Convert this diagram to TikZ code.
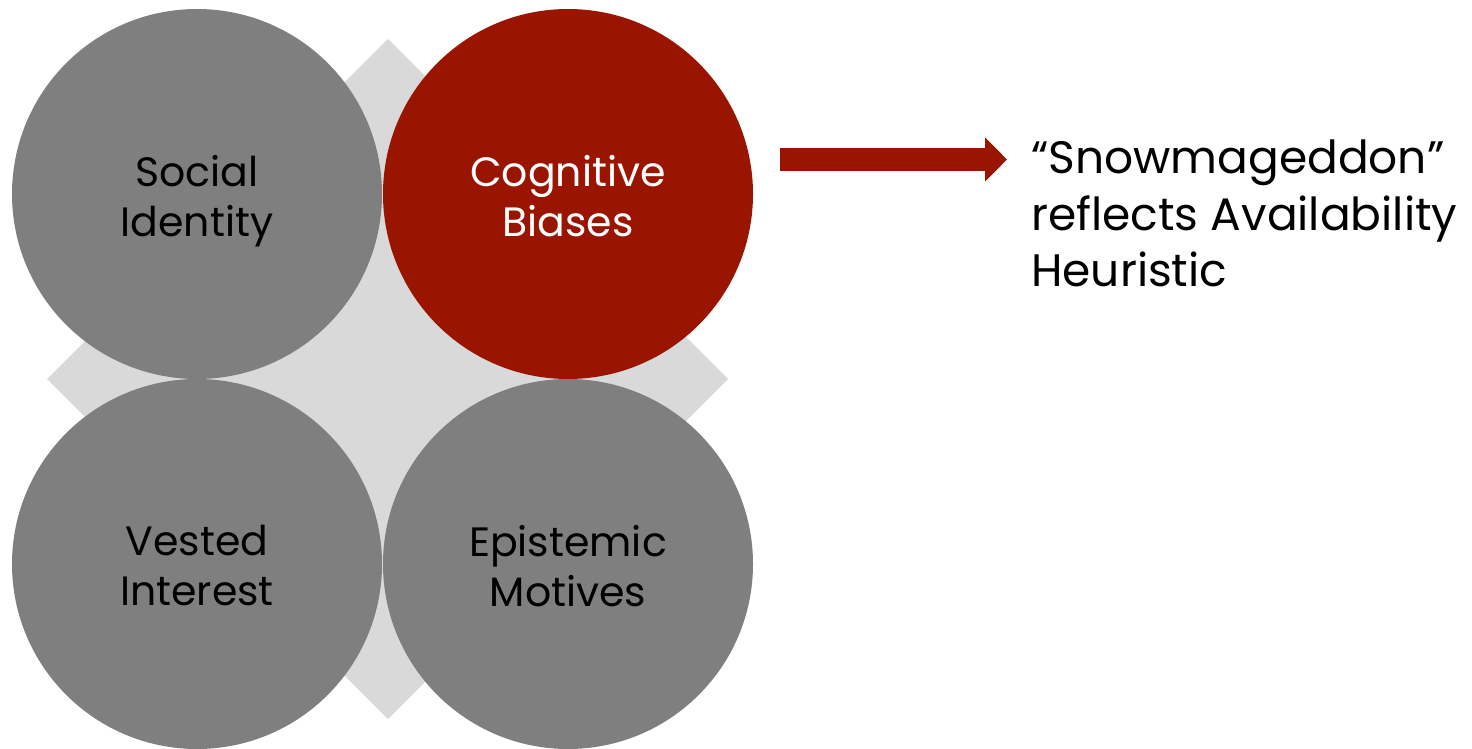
\documentclass[tikz,border=0pt]{standalone}
\usepackage{fontspec}
\setmainfont{Poppins}
\usetikzlibrary{arrows.meta}
\definecolor{disc}{RGB}{127,127,127}
\definecolor{accent}{RGB}{154,21,0}
\definecolor{backdrop}{RGB}{217,217,217}
\tikzset{
  disklabel/.style={align=center, inner sep=0pt, yshift=-7pt,
    font=\fontsize{41}{50}\selectfont},
  % the phantom keeps every two-line caption on the same baselines
  disk/.style={circle, minimum size=370pt, inner sep=0pt, fill=disc, draw=none,
    label={[disklabel, text=black]center:{#1\vphantom{y}}}},
  hotdisk/.style={circle, minimum size=370pt, inner sep=0pt, fill=accent, draw=none,
    label={[disklabel, text=white]center:{#1\vphantom{y}}}},
  pointer/.style={draw=accent, line width=23pt, -{Triangle[length=22pt, width=43pt]}},
  note/.style={anchor=north west, inner sep=0pt, align=left,
    font=\fontsize{45.5}{56.5}\selectfont, text=black}
}
\begin{document}
\begin{tikzpicture}[x=1pt, y=-1pt]
  \useasboundingbox (0,0) rectangle (1472,749);
  % grey diamond behind the four discs
  \fill[backdrop] (388,39) -- (728,379) -- (388,719) -- (47,379) -- cycle;
  % the four discs
  \node[disk={Social\\Identity}]       (social) at (197,194) {};
  \node[hotdisk={Cognitive\\Biases}]   (cog)    at (568,194) {};
  \node[disk={Vested\\Interest}]       (vested) at (197,564) {};
  \node[disk={Epistemic\\Motives}]     (epist)  at (568,564) {};
  % explanatory note and the arrow leading to it
  \node[note] (snow) at (1031,140) {“Snowmageddon”\\reflects Availability\\Heuristic};
  \coordinate (from) at (780,159.5);
  \coordinate (to)   at (1007,159.5);
  \draw[pointer] (from) -- (to);
\end{tikzpicture}
\end{document}
